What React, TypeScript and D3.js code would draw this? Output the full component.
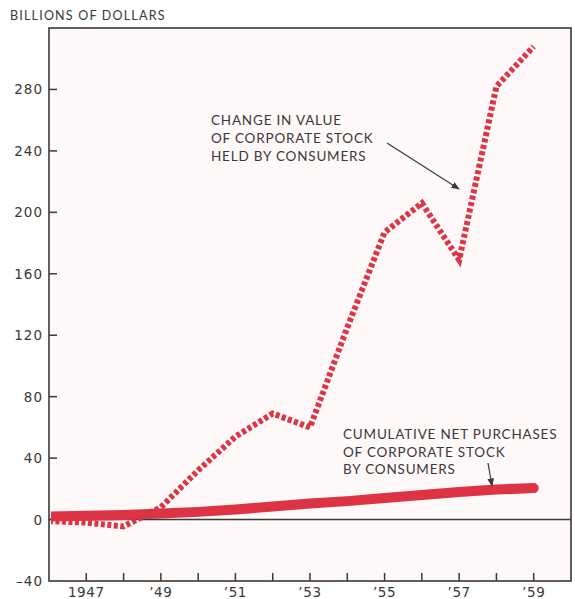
import React from "react";
import * as d3 from "d3";

const years = [1946, 1947, 1948, 1949, 1950, 1951, 1952, 1953, 1954, 1955, 1956, 1957, 1958, 1959];
const changeInValue = [-1, -2, -4.5, 8, 32, 54, 69, 60, 125, 187, 206, 169, 282, 308];
const cumulativePurchases = [2, 2.5, 3, 4, 5, 6.5, 8.5, 10.5, 12, 14, 16, 18, 19.5, 20.5];
const yTicks = [-40, 0, 40, 80, 120, 160, 200, 240, 280];
const xTickYears = [1947, 1948, 1949, 1950, 1951, 1952, 1953, 1954, 1955, 1956, 1957, 1958, 1959];
const xLabels: [number, string][] = [
  [1947, "1947"], [1949, "\u201949"], [1951, "\u201951"], [1953, "\u201953"],
  [1955, "\u201955"], [1957, "\u201957"], [1959, "\u201959"],
];
const yTitle = "BILLIONS OF DOLLARS";
const note1 = ["CHANGE IN VALUE", "OF CORPORATE STOCK", "HELD BY CONSUMERS"];
const note2 = ["CUMULATIVE NET PURCHASES", "OF CORPORATE STOCK", "BY CONSUMERS"];

const W = 575, H = 599;
const L = 49, R = 571, T = 28, B = 581;
const RED = "#dc3445";
const INK = "#3a3838";
const FONT = "Lato, 'DejaVu Sans', sans-serif";
const NUMFONT = "'DejaVu Sans', sans-serif";

export default function App() {
  const x = d3.scaleLinear().domain([1946, 1960]).range([L, R]);
  const y = d3.scaleLinear().domain([-40, 320]).range([B, T]);
  const line = (vals: number[]) =>
    d3.line<number>().x((_, i) => x(years[i])).y((v) => y(v)).curve(d3.curveLinear)(vals) || "";

  return (
    <svg width={W} height={H} style={{ position: "absolute", left: 0, top: 0, background: "#fff" }}>
      <defs>
        <marker id="ah" viewBox="0 0 10 10" refX="9" refY="5" markerWidth="7" markerHeight="7" orient="auto">
          <path d="M0,1 L10,5 L0,9 z" fill={INK} />
        </marker>
        <clipPath id="plot">
          <rect x={L + 2} y={T} width={R - L - 2} height={B - T} />
        </clipPath>
      </defs>
      <rect x={L} y={T} width={R - L} height={B - T} fill="#fef8f8" />
      {/* frame */}
      <rect x={L} y={T} width={R - L} height={B - T} fill="none" stroke={INK} strokeWidth={1.6} />
      {/* zero line */}
      <line x1={L} x2={R} y1={y(0)} y2={y(0)} stroke={INK} strokeWidth={1.4} />
      {/* y ticks */}
      {yTicks.map((t) => (
        <g key={t}>
          {t > -40 && <line x1={L} x2={L + 8} y1={y(t)} y2={y(t)} stroke={INK} strokeWidth={1.5} />}
          <text x={43} y={y(t) + 5} textAnchor="end" fontFamily={NUMFONT} fontSize={13.5} fill={INK} letterSpacing={1}>
            {t < 0 ? "\u2013" + Math.abs(t) : t}
          </text>
        </g>
      ))}
      {/* x ticks */}
      {xTickYears.map((yr) => (
        <line key={yr} x1={x(yr)} x2={x(yr)} y1={B} y2={B - 8} stroke={INK} strokeWidth={1.5} />
      ))}
      {xLabels.map(([yr, s]) => (
        <text key={yr} x={x(yr)} y={597} textAnchor="middle" fontFamily={NUMFONT} fontSize={13.5} fill={INK} letterSpacing={0.6}>
          {s}
        </text>
      ))}
      <text x={10} y={20} fontFamily={FONT} fontSize={12.5} fill={INK} letterSpacing={1.2}>
        {yTitle}
      </text>
      {/* lines */}
      <g clipPath="url(#plot)">
        <path d={line(cumulativePurchases)} fill="none" stroke={RED} strokeWidth={10} strokeLinecap="round" strokeLinejoin="round" />
        <path d={line(changeInValue)} fill="none" stroke={RED} strokeWidth={6} strokeDasharray="4 2.5" />
      </g>
      {/* annotations */}
      {note1.map((s, i) => (
        <text key={s} x={211} y={125 + i * 18} fontFamily={FONT} fontSize={13.5} fill={INK} letterSpacing={0.8}>
          {s}
        </text>
      ))}
      <line x1={387} y1={143} x2={459} y2={189} stroke={INK} strokeWidth={1.2} markerEnd="url(#ah)" />
      {note2.map((s, i) => (
        <text key={s} x={343} y={439 + i * 17.5} fontFamily={FONT} fontSize={13.5} fill={INK} letterSpacing={0.8}>
          {s}
        </text>
      ))}
      <line x1={488} y1={463} x2={492} y2={486} stroke={INK} strokeWidth={1.2} markerEnd="url(#ah)" />
    </svg>
  );
}
